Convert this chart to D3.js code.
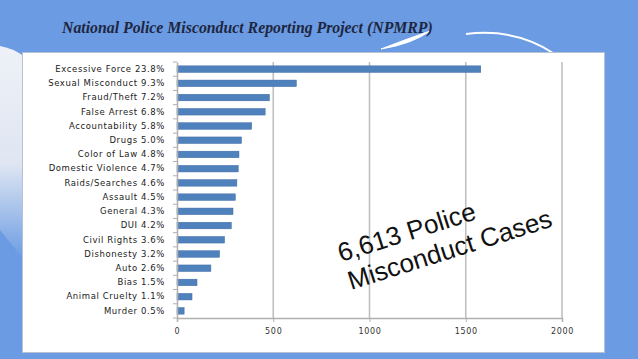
<!DOCTYPE html>
<html><head><meta charset="utf-8">
<script src="https://cdn.jsdelivr.net/npm/d3@7"></script>
<style>html,body{margin:0;padding:0;background:#6a9be3;}svg{display:block;}</style>
</head><body>
<script>
const categories = ["Excessive Force 23.8%","Sexual Misconduct 9.3%","Fraud/Theft 7.2%","False Arrest 6.8%","Accountability 5.8%","Drugs 5.0%","Color of Law 4.8%","Domestic Violence 4.7%","Raids/Searches 4.6%","Assault 4.5%","General 4.3%","DUI 4.2%","Civil Rights  3.6%","Dishonesty 3.2%","Auto 2.6%","Bias 1.5%","Animal Cruelty 1.1%","Murder 0.5%"];
const cases = [1578,620,480,458,388,335,322,318,311,303,291,282,247,221,176,104,78,37];
const xTicks = [0,500,1000,1500,2000];
const title = "National Police Misconduct Reporting Project (NPMRP)";
const noteLines = ["6,613 Police","Misconduct Cases"];

const W=638,H=359;
const svg=d3.select("body").append("svg").attr("width",W).attr("height",H);
const defs=svg.append("defs");
const lg=defs.append("linearGradient").attr("id","lg").attr("x1",0).attr("y1",0).attr("x2",0).attr("y2",1);
lg.append("stop").attr("offset","0%").attr("stop-color","#eef1f7");
lg.append("stop").attr("offset","55%").attr("stop-color","#dfe6f2");
lg.append("stop").attr("offset","100%").attr("stop-color","#6a9be3");
svg.append("rect").attr("width",W).attr("height",H).attr("fill","#6a9be3");
svg.append("path").attr("d","M0,46 Q12,48 24,56 L24,260 L0,230 Z").attr("fill","url(#lg)");
svg.append("path").attr("d","M381,49 Q404,40 430,31 Q412,44 381,49 Z").attr("fill","#ffffff").attr("stroke","#ffffff").attr("stroke-width",1);
svg.append("path").attr("d","M466,34 Q515,28 553,53").attr("fill","none").attr("stroke","#ffffff").attr("stroke-width",2);

svg.append("text").attr("x",62).attr("y",33).text(title)
  .attr("font-family","'Liberation Serif','Times New Roman',serif").attr("font-weight","bold").attr("font-style","italic")
  .attr("font-size",15.8).attr("fill","#1e2640");

svg.append("rect").attr("x",22.5).attr("y",52.5).attr("width",582).attr("height",300).attr("fill","#ffffff").attr("stroke","#b8c2d2").attr("stroke-width",1);

const m={l:177,r:562,t:62,b:318};
const x=d3.scaleLinear().domain([0,2000]).range([m.l,m.r]);
const y=d3.scaleBand().domain(categories).range([m.t,m.b]).paddingInner(0.54).paddingOuter(0.27);
const yb=d3.scaleBand().domain(categories).range([m.t,m.b]);

const g=svg.append("g");
g.selectAll("line.grid").data(xTicks.slice(1)).join("line")
  .attr("x1",d=>x(d)).attr("x2",d=>x(d)).attr("y1",m.t).attr("y2",m.b)
  .attr("stroke","#c0c0c0").attr("stroke-width",1.6);

g.selectAll("rect.bar").data(cases).join("rect")
  .attr("x",x(0)).attr("y",(d,i)=>y(categories[i]))
  .attr("width",d=>x(d)-x(0)).attr("height",y.bandwidth())
  .attr("fill","#4f81bd").attr("stroke","#3f6ca5").attr("stroke-width",0.5);

const xa=svg.append("g").attr("transform",`translate(0,${m.b})`)
  .call(d3.axisBottom(x).tickValues(xTicks).tickFormat(d3.format("d")).tickSize(4).tickPadding(6));
xa.select(".domain").attr("stroke","#b0b0b0").attr("stroke-width",1.5);
xa.selectAll(".tick line").attr("stroke","#b0b0b0");
xa.selectAll("text").attr("font-family","'DejaVu Sans',Verdana,sans-serif").attr("font-size",8).attr("fill","#333").attr("letter-spacing",0.7);

const ya=svg.append("g").attr("transform",`translate(${m.l},0)`)
  .call(d3.axisLeft(y).tickSize(0).tickPadding(12));
ya.select(".domain").attr("stroke","#b0b0b0").attr("stroke-width",1.5);
ya.selectAll("text").attr("font-family","'DejaVu Sans',Verdana,sans-serif").attr("font-size",8.5).attr("fill","#222").attr("letter-spacing",0.6);
svg.append("g").selectAll("line").data(categories.concat([null])).join("line")
  .attr("x1",m.l-4).attr("x2",m.l)
  .attr("y1",(d,i)=>i<categories.length?yb(d):m.b).attr("y2",(d,i)=>i<categories.length?yb(d):m.b)
  .attr("stroke","#b0b0b0");

const pos=[[341,262],[351,290]];
noteLines.forEach((t,i)=>{
  svg.append("text").attr("transform",`translate(${pos[i][0]},${pos[i][1]}) rotate(-17.5)`)
    .text(t).attr("font-family","'Liberation Sans',Arial,sans-serif").attr("font-size",26).attr("fill","#111");
});
</script>
</body></html>
